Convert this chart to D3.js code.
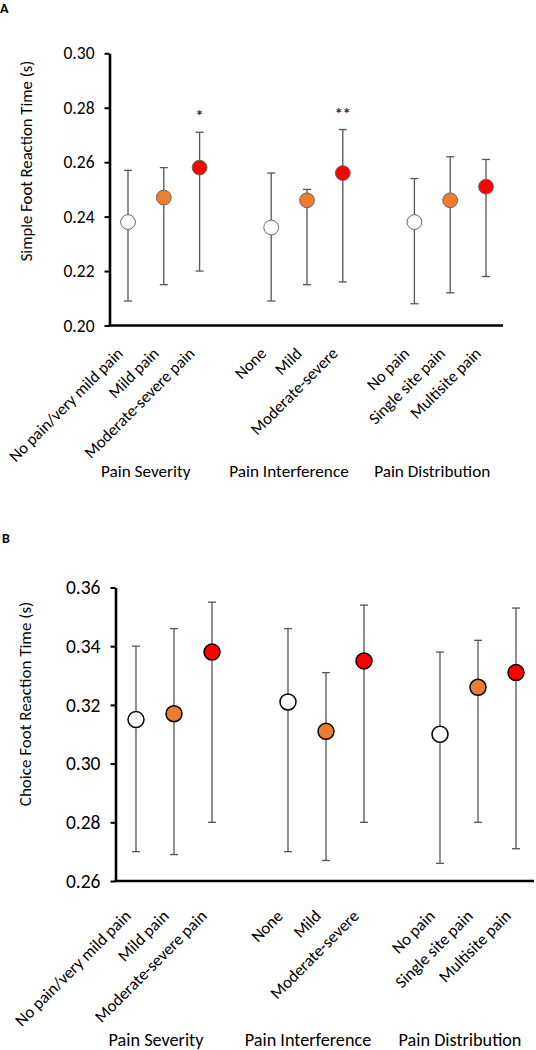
<!DOCTYPE html>
<html>
<head>
<meta charset="utf-8">
<script src="https://cdn.jsdelivr.net/npm/d3@7"></script>
<style>
  html, body { margin: 0; padding: 0; background: #fff; }
  svg { display: block; }
  text { font-family: Carlito, Calibri, Lato, "Noto Sans", sans-serif; fill: #000; }
</style>
</head>
<body>
<svg id="chart" width="536" height="1050"></svg>
<script>
// ---------- data ----------
const categories = ["No pain/very mild pain", "Mild pain", "Moderate-severe pain",
                    "None", "Mild", "Moderate-severe",
                    "No pain", "Single site pain", "Multisite pain"];
const groupLabels = ["Pain Severity", "Pain Interference", "Pain Distribution"];
const levelColors = ["#FFFFFF", "#ED7D31", "#FF0000"];

const simpleMean = [0.238, 0.247, 0.258, 0.236, 0.246, 0.256, 0.238, 0.246, 0.251];
const simpleLow  = [0.209, 0.215, 0.220, 0.209, 0.215, 0.216, 0.208, 0.212, 0.218];
const simpleHigh = [0.257, 0.258, 0.271, 0.256, 0.250, 0.272, 0.254, 0.262, 0.261];
const simpleSig  = ["", "", "*", "", "", "**", "", "", ""];
const simpleTicks = [0.20, 0.22, 0.24, 0.26, 0.28, 0.30];

const choiceMean = [0.315, 0.317, 0.338, 0.321, 0.311, 0.335, 0.310, 0.326, 0.331];
const choiceLow  = [0.270, 0.269, 0.280, 0.270, 0.267, 0.280, 0.266, 0.280, 0.271];
const choiceHigh = [0.340, 0.346, 0.355, 0.346, 0.331, 0.354, 0.338, 0.342, 0.353];
const choiceSig  = ["", "", "", "", "", "", "", "", ""];
const choiceTicks = [0.26, 0.28, 0.30, 0.32, 0.34, 0.36];

const svg = d3.select("#chart");

function drawPanel(cfg) {
  const g = svg.append("g");
  const rows = categories.map((c, i) => ({
    cat: c, slot: Math.floor(i / 3) * 4 + (i % 3), level: i % 3,
    mean: cfg.mean[i], low: cfg.low[i], high: cfg.high[i], sig: cfg.sig[i]
  }));

  const x = d3.scaleLinear().domain([0, 10]).range(cfg.xRange);
  const y = d3.scaleLinear().domain(d3.extent(cfg.ticks)).range(cfg.yRange);

  // panel letter
  g.append("text").attr("x", cfg.letterPos[0]).attr("y", cfg.letterPos[1])
    .attr("font-weight", "bold").attr("font-size", 14).text(cfg.letter);

  // y axis
  const yAxis = d3.axisLeft(y).tickValues(cfg.ticks).tickFormat(d3.format(".2f"))
    .tickSize(5).tickPadding(10).tickSizeOuter(0);
  const ya = g.append("g").attr("transform", `translate(${cfg.axisX},0)`).call(yAxis);
  ya.select(".domain").attr("stroke", "#000").attr("stroke-width", 2.6);
  ya.selectAll(".tick line").attr("stroke", "#000").attr("stroke-width", 2);
  ya.selectAll(".tick text").attr("font-size", cfg.tickFont).attr("fill", "#000")
    .attr("font-family", "Carlito, Calibri, Lato, sans-serif");

  // x baseline
  g.append("line").attr("x1", cfg.axisX - 1).attr("x2", cfg.xEnd)
    .attr("y1", y(cfg.ticks[0])).attr("y2", y(cfg.ticks[0]))
    .attr("stroke", "#000").attr("stroke-width", 2.6);

  // y title
  g.append("text")
    .attr("transform", `translate(${cfg.titlePos[0]},${cfg.titlePos[1]}) rotate(-90)`)
    .attr("text-anchor", "middle").attr("dominant-baseline", "middle")
    .attr("font-size", cfg.titleFont).text(cfg.title);

  // error bars
  const eb = g.append("g").attr("stroke", cfg.barColor).attr("stroke-width", 1.3);
  rows.forEach(r => {
    const cx = x(r.slot);
    eb.append("line").attr("x1", cx).attr("x2", cx).attr("y1", y(r.low)).attr("y2", y(r.high));
    eb.append("line").attr("x1", cx - 4).attr("x2", cx + 4).attr("y1", y(r.low)).attr("y2", y(r.low));
    eb.append("line").attr("x1", cx - 4).attr("x2", cx + 4).attr("y1", y(r.high)).attr("y2", y(r.high));
  });

  // points
  g.selectAll("circle.pt").data(rows).enter().append("circle")
    .attr("class", "pt")
    .attr("cx", d => x(d.slot)).attr("cy", d => y(d.mean)).attr("r", cfg.r)
    .attr("fill", d => levelColors[d.level])
    .attr("stroke", cfg.ptStroke).attr("stroke-width", cfg.ptStrokeW);

  // significance marks
  g.selectAll("text.sig").data(rows.filter(d => d.sig)).enter().append("text")
    .attr("class", "sig")
    .attr("x", d => x(d.slot)).attr("y", d => y(d.high) - 11)
    .attr("text-anchor", "middle").attr("font-size", 16).style("fill", "#333")
    .attr("font-weight", "bold")
    .text(d => d.sig);

  // category labels
  g.selectAll("text.cat").data(rows).enter().append("text")
    .attr("class", "cat")
    .attr("transform", d => `translate(${x(d.slot) + cfg.catOffset[0]},${y(cfg.ticks[0]) + cfg.catOffset[1]}) rotate(-45)`)
    .attr("text-anchor", "end").attr("font-size", cfg.catFont)
    .text(d => d.cat);

  // group labels
  groupLabels.forEach((lab, gi) => {
    g.append("text")
      .attr("x", x(gi * 4 + 1) + cfg.groupDx).attr("y", cfg.groupY)
      .attr("text-anchor", "middle").attr("font-size", cfg.groupFont)
      .text(lab);
  });
}

drawPanel({
  letter: "A", letterPos: [0, 13],
  mean: simpleMean, low: simpleLow, high: simpleHigh, sig: simpleSig, ticks: simpleTicks,
  xRange: [128, 486], yRange: [325.5, 53.3], axisX: 109.5, xEnd: 503,
  title: "Simple Foot Reaction Time (s)", titlePos: [28, 161], titleFont: 16.7,
  tickFont: 17.5, barColor: "#555", r: 7.4, ptStroke: "#666", ptStrokeW: 1,
  catOffset: [-4, 29], catFont: 16.5, groupY: 477, groupDx: -18, groupFont: 17.2
});

drawPanel({
  letter: "B", letterPos: [2, 543],
  mean: choiceMean, low: choiceLow, high: choiceHigh, sig: choiceSig, ticks: choiceTicks,
  xRange: [136, 516], yRange: [881, 587.5], axisX: 115.5, xEnd: 534,
  title: "Choice Foot Reaction Time (s)", titlePos: [27, 704], titleFont: 17,
  tickFont: 19.5, barColor: "#555", r: 8, ptStroke: "#000", ptStrokeW: 1.5,
  catOffset: [-4, 36], catFont: 16.8, groupY: 1046, groupDx: -18, groupFont: 18.2
});
</script>
</body>
</html>
